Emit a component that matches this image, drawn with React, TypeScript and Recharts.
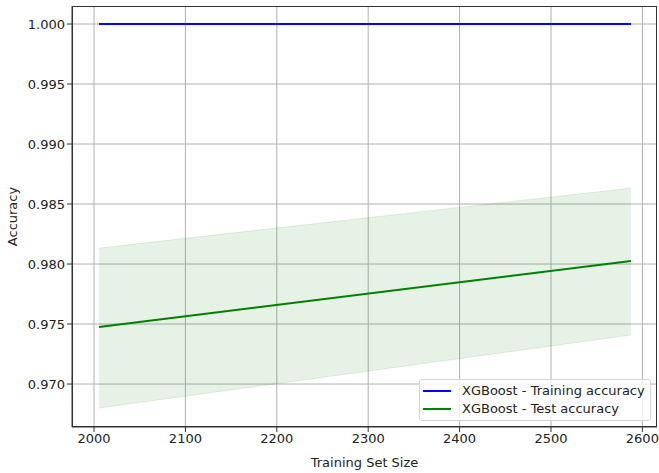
import React from 'react';
import { ComposedChart, Line, Area, XAxis, YAxis, CartesianGrid, Label } from 'recharts';

const trainSizes = [2005.5, 2587.5];
const trainAcc = [1.0, 1.0];
const testAcc = [0.97475, 0.98025];
const testLow = [0.968, 0.97408];
const testHigh = [0.98133, 0.98633];
const xTicks = [2000, 2100, 2200, 2300, 2400, 2500, 2600];
const yTicks = [0.97, 0.975, 0.98, 0.985, 0.99, 0.995, 1.0];
const legendItems = [
  { color: '#0000ff', label: 'XGBoost - Training accuracy' },
  { color: '#008000', label: 'XGBoost - Test accuracy' },
];

const data = trainSizes.map((s, i) => ({
  size: s,
  train: trainAcc[i],
  test: testAcc[i],
  band: [testLow[i], testHigh[i]],
}));

const FONT = 'DejaVu Sans, sans-serif';
const FS = 13;

export default function App() {
  return (
    <div style={{ position: 'absolute', left: 0, top: 0, width: 659, height: 473, background: '#fff' }}>
      <ComposedChart width={659} height={473} data={data} margin={{ top: 6, right: 2, left: 0, bottom: 0 }}>
        <CartesianGrid stroke="#b0b0b0" strokeWidth={1} horizontalValues={yTicks} verticalValues={xTicks} />
        <XAxis
          dataKey="size"
          type="number"
          domain={[1975.9, 2616]}
          ticks={xTicks}
          height={46}
          tick={{ fontFamily: FONT, fontSize: FS, fill: '#222' }}
          tickSize={5}
          stroke="#333"
          allowDataOverflow
        >
          <Label value="Training Set Size" position="insideBottom" offset={6} style={{ fontFamily: FONT, fontSize: FS, fill: '#222' }} />
        </XAxis>
        <YAxis
          type="number"
          domain={[0.96642, 1.0015]}
          ticks={yTicks}
          width={72}
          tickFormatter={(v: number) => v.toFixed(3)}
          tick={{ fontFamily: FONT, fontSize: FS, fill: '#222' }}
          tickSize={5}
          stroke="#333"
          allowDataOverflow
        >
          <Label value="Accuracy" angle={-90} position="insideLeft" offset={12} style={{ fontFamily: FONT, fontSize: FS, fill: '#222', textAnchor: 'middle' }} />
        </YAxis>
        <Area
          dataKey="band"
          type="linear"
          fill="#008000"
          fillOpacity={0.1}
          stroke="#008000"
          strokeOpacity={0.1}
          isAnimationActive={false}
          legendType="none"
        />
        <Line dataKey="train" type="linear" stroke="#0000ff" strokeWidth={2} dot={false} isAnimationActive={false} />
        <Line dataKey="test" type="linear" stroke="#008000" strokeWidth={2} dot={false} isAnimationActive={false} />
      </ComposedChart>
      <div
        style={{
          position: 'absolute',
          left: 72,
          top: 6,
          width: 585,
          height: 421,
          boxSizing: 'border-box',
          border: '1px solid #333',
          pointerEvents: 'none',
        }}
      />
      <div
        style={{
          position: 'absolute',
          left: 419,
          top: 379,
          width: 232,
          height: 42,
          boxSizing: 'border-box',
          border: '1px solid #d6d6d6',
          borderRadius: 3,
          background: 'rgba(255,255,255,0.8)',
          padding: '2px 0 0 3px',
          fontFamily: FONT,
          fontSize: FS,
          color: '#222',
          lineHeight: '18px',
        }}
      >
        {legendItems.map((e) => (
          <div key={e.label} style={{ display: 'flex', alignItems: 'center', whiteSpace: 'nowrap' }}>
            <span style={{ display: 'inline-block', width: 28, height: 2, background: e.color, marginRight: 11 }} />
            <span>{e.label}</span>
          </div>
        ))}
      </div>
    </div>
  );
}
